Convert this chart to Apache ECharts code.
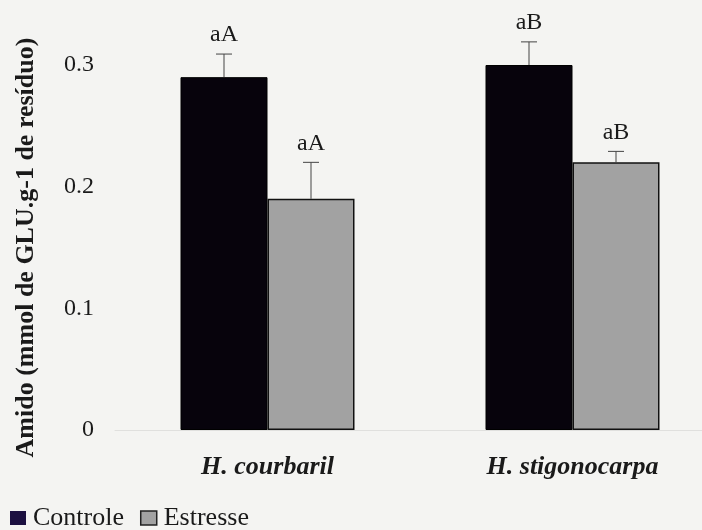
<!DOCTYPE html>
<html>
<head>
<meta charset="utf-8">
<script src="https://cdn.jsdelivr.net/npm/echarts@6/dist/echarts.min.js"></script>
<style>
html,body{margin:0;padding:0;background:#f4f4f2;overflow:hidden;}
#chart{width:725px;height:530px;}
</style>
</head>
<body>
<div id="chart"></div>
<script>
// dados
var especies = ['H. courbaril', 'H. stigonocarpa'];
var controle = [0.29, 0.30];
var estresse = [0.19, 0.22];
var erroControle = [0.019, 0.019];
var erroEstresse = [0.03, 0.009];
var letrasControle = ['aA', 'aB'];
var letrasEstresse = ['aA', 'aB'];
var yTicks = [0, 0.1, 0.2, 0.3];

var fonte = '"Liberation Serif","Times New Roman",serif';
var larguraBarra = 87;

// barras de erro (só parte de cima) + letras
function erroSerie(medias, erros, letras, lado) {
	var dados = medias.map(function (v, i) { return [i, v, erros[i]]; });
	return {
		type: 'custom',
		name: 'erro' + lado,
		clip: false,
		silent: true,
		z: 5,
		data: dados,
		renderItem: function (params, api) {
			var i = api.value(0);
			var base = api.coord([i, api.value(1)]);
			var topo = api.coord([i, api.value(1) + api.value(2)]);
			var x = base[0] + lado * larguraBarra / 2;
			var meia = 8;
			return {
				type: 'group',
				children: [
					{ type: 'line', shape: { x1: x, y1: base[1], x2: x, y2: topo[1] }, style: { stroke: '#444', lineWidth: 1 } },
					{ type: 'line', shape: { x1: x - meia, y1: topo[1], x2: x + meia, y2: topo[1] }, style: { stroke: '#444', lineWidth: 1 } },
					{ type: 'text', x: x, y: topo[1] - 7, style: { text: letras[params.dataIndex], fill: '#1a1a1a', font: '24px ' + fonte, align: 'center', verticalAlign: 'bottom' } }
				]
			};
		}
	};
}

var myChart = echarts.init(document.getElementById('chart'));
var option = {
	backgroundColor: '#f4f4f2',
	animation: false,
	grid: { left: 115, right: 0, top: 65, bottom: 100 },
	legend: {
		data: [
			{ name: 'Controle', itemStyle: { color: '#1c1040', borderWidth: 0 } },
			{ name: 'Estresse', itemStyle: { color: '#a2a2a2', borderColor: '#222', borderWidth: 1.5 } }
		],
		left: 5,
		top: 505,
		padding: [0, 5, 0, 5],
		itemWidth: 16,
		itemHeight: 14,
		itemGap: 16,
		icon: 'rect',
		textStyle: { fontFamily: fonte, fontSize: 26, color: '#1a1a1a', padding: [0, 0, 0, 2] }
	},
	xAxis: {
		type: 'category',
		data: especies,
		axisLine: { show: true, lineStyle: { color: '#e0e0de', width: 1 } },
		axisTick: { show: false },
		axisLabel: { fontFamily: fonte, fontStyle: 'italic', fontWeight: 'bold', fontSize: 26, color: '#1a1a1a', margin: 24 }
	},
	yAxis: {
		type: 'value',
		min: yTicks[0],
		max: yTicks[yTicks.length - 1],
		interval: 0.1,
		name: 'Amido (mmol de GLU.g-1 de resíduo)',
		nameLocation: 'middle',
		nameRotate: 90,
		nameGap: 76,
		nameTextStyle: { fontFamily: fonte, fontWeight: 'bold', fontSize: 26, color: '#1a1a1a' },
		axisLine: { show: false },
		axisTick: { show: false },
		splitLine: { show: false },
		axisLabel: {
			fontFamily: fonte, fontSize: 24, color: '#1a1a1a', margin: 21,
			formatter: function (v) { return v === 0 ? '0' : v.toFixed(1); }
		}
	},
	series: [
		{
			name: 'Controle',
			type: 'bar',
			barWidth: larguraBarra,
			barGap: '0%',
			data: controle,
			itemStyle: { color: '#07030c', borderColor: '#000', borderWidth: 1 }
		},
		{
			name: 'Estresse',
			type: 'bar',
			barWidth: larguraBarra,
			barGap: '0%',
			data: estresse,
			itemStyle: { color: '#a2a2a2', borderColor: '#111', borderWidth: 1.5 }
		},
		erroSerie(controle, erroControle, letrasControle, -1),
		erroSerie(estresse, erroEstresse, letrasEstresse, 1)
	]
};
myChart.setOption(option);
</script>
</body>
</html>
